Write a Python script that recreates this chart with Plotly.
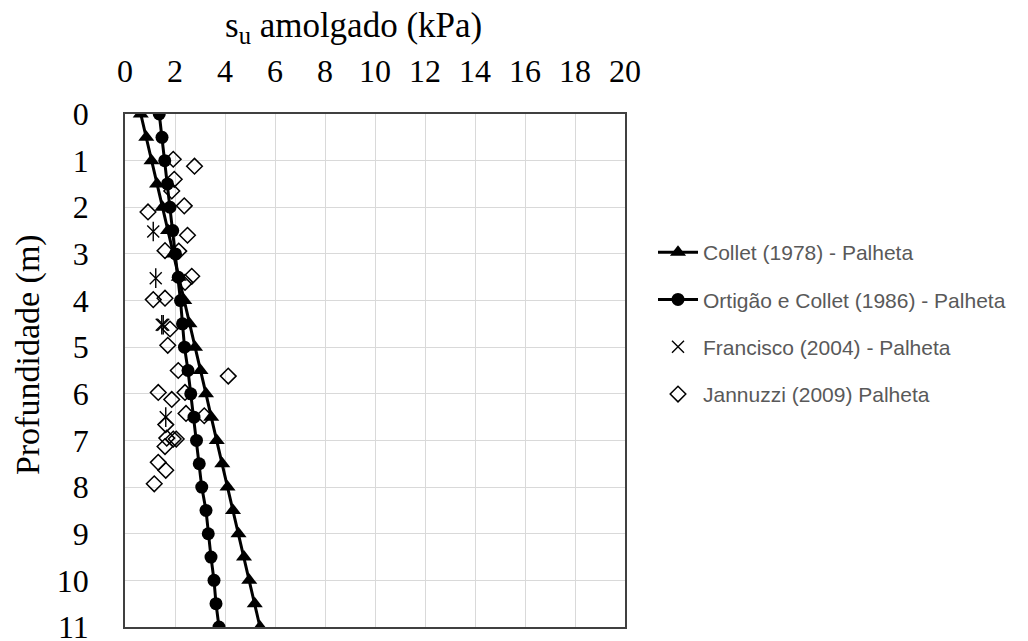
import plotly.graph_objects as go

# Depths (m)
depth_curve = [0, 0.5, 1, 1.5, 2, 2.5, 3, 3.5, 4, 4.5, 5, 5.5, 6, 6.5, 7, 7.5, 8, 8.5, 9, 9.5, 10, 10.5, 11]
collet_su = [0.63, 0.85, 1.06, 1.28, 1.5, 1.72, 1.93, 2.15, 2.37, 2.58, 2.8, 3.02, 3.24, 3.45, 3.67, 3.89,
             4.1, 4.32, 4.54, 4.76, 4.97, 5.19, 5.4]
ortigao_su = [1.37, 1.48, 1.59, 1.7, 1.8, 1.91, 2.02, 2.13, 2.22, 2.3, 2.38, 2.52, 2.63, 2.76, 2.86, 2.97,
              3.07, 3.24, 3.33, 3.44, 3.56, 3.64, 3.76]

francisco_su = [1.13, 1.23, 1.47, 1.53, 1.63]
francisco_depth = [2.52, 3.52, 4.52, 4.52, 6.5]

jannuzzi_su = [1.93, 2.78, 1.97, 1.87, 2.37, 0.92, 2.5, 1.6, 2.15, 2.67, 2.4, 1.13, 1.6, 1.8, 1.71,
               2.13, 4.13, 1.33, 2.4, 1.87, 2.44, 3.17, 1.63, 1.67, 1.93, 2.05, 1.6, 1.33, 1.63, 1.17]
jannuzzi_depth = [0.97, 1.12, 1.4, 1.65, 1.97, 2.1, 2.6, 2.93, 2.94, 3.48, 3.61, 3.98, 3.95, 4.61, 4.96,
                  5.5, 5.62, 5.97, 5.97, 6.12, 6.42, 6.47, 6.66, 6.95, 6.97, 6.97, 7.13, 7.47, 7.64, 7.93]

x_ticks = list(range(0, 21, 2))
y_ticks = list(range(0, 12))

fig = go.Figure()
fig.add_trace(go.Scatter(
    x=collet_su, y=depth_curve, mode="lines+markers", name="Collet (1978) - Palheta",
    line=dict(color="black", width=3), marker=dict(symbol="triangle-up", size=14, color="black"),
    legendgroup="a"))
fig.add_trace(go.Scatter(
    x=ortigao_su, y=depth_curve, mode="lines+markers", name="Ortigão e Collet (1986) - Palheta",
    line=dict(color="black", width=3), marker=dict(symbol="circle", size=13, color="black"),
    legendgroup="b"))
fig.add_trace(go.Scatter(
    x=francisco_su, y=francisco_depth, mode="markers", name="Francisco (2004) - Palheta",
    marker=dict(symbol="x-thin-open", size=12, color="black", line=dict(width=1.4, color="black")),
    legendgroup="c"))
fig.add_trace(go.Scatter(
    x=francisco_su, y=francisco_depth, mode="markers", showlegend=False,
    marker=dict(symbol="line-ns-open", size=14, color="black", line=dict(width=1.4, color="black")),
    legendgroup="c", hoverinfo="skip"))
fig.add_trace(go.Scatter(
    x=jannuzzi_su, y=jannuzzi_depth, mode="markers", name="Jannuzzi (2009) Palheta",
    marker=dict(symbol="diamond-open", size=12, color="black", line=dict(width=1.5, color="black")),
    legendgroup="d"))

serif = "Liberation Serif, Times New Roman, serif"

fig.update_layout(
    width=1020, height=633,
    margin=dict(l=117, r=403, t=106, b=14),
    paper_bgcolor="white", plot_bgcolor="white",
    font=dict(family=serif, color="black"),
    showlegend=True,
    legend=dict(x=1.056, y=0.77, xanchor="left", yanchor="top",
                font=dict(family="Liberation Sans, Arial, sans-serif", size=21, color="#595959"),
                tracegroupgap=17, itemwidth=40),
    xaxis=dict(range=[0, 20], side="top", tickvals=x_ticks, ticktext=[str(v) for v in x_ticks],
               tickfont=dict(family=serif, size=32, color="black"), ticklabelstandoff=17,
               ticklabeloverflow="allow",
               showgrid=True, gridcolor="#d9d9d9", gridwidth=1, automargin=False,
               showline=True, linecolor="#404040", linewidth=1.5, mirror=True,
               zeroline=False, ticks=""),
    yaxis=dict(range=[11, 0], tickvals=y_ticks, ticktext=[str(v) for v in y_ticks],
               tickfont=dict(family=serif, size=32, color="black"), ticklabelstandoff=28,
               ticklabeloverflow="allow",
               showgrid=True, gridcolor="#d9d9d9", gridwidth=1, automargin=False,
               showline=True, linecolor="#404040", linewidth=1.5, mirror=True,
               zeroline=False, ticks=""),
    annotations=[
        dict(text="s<sub>u</sub> amolgado (kPa)", xref="paper", yref="paper", x=0.456, y=1.0,
             yshift=87, xanchor="center", yanchor="middle", showarrow=False,
             font=dict(family=serif, size=35, color="black")),
        dict(text="Profundidade (m)", xref="paper", yref="paper", x=0, y=0.53,
             xshift=-97, xanchor="center", yanchor="middle", textangle=-90, showarrow=False,
             font=dict(family=serif, size=34, color="black")),
    ],
)

fig.write_html("out.html")
